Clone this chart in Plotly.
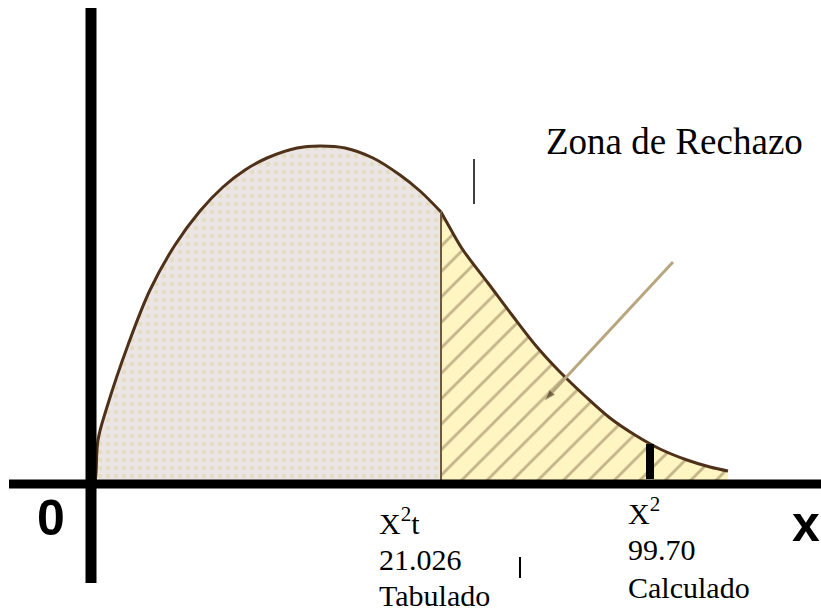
import plotly.graph_objects as go

# sketch of the chi-square density (origin = crossing of the axes)
curve_x = [4, 5, 7, 16, 37, 59, 84, 109, 132, 154, 176, 206, 229, 254, 282, 309, 329,
           350, 359, 372, 397, 421, 446, 469, 494, 519, 544, 569, 596, 619, 637]
curve_y = [2, 11, 44, 77, 139, 194, 239, 273, 297, 314, 326, 336, 338, 336, 326, 309, 293,
           272, 256, 234, 201, 169, 137, 112, 88, 66, 49, 35, 24, 17, 13]

x_tabulado = 350     # X²t = 21.026
x_calculado = 559    # X² = 99.70

tab_lines = ["X<sup>2</sup>t", "21.026", "Tabulado"]
calc_lines = ["X<sup>2</sup>", "99.70", "Calculado"]
zone_label = "Zona de Rechazo"

i = curve_x.index(x_tabulado)
left_x, left_y = curve_x[:i + 1], curve_y[:i + 1]
right_x, right_y = curve_x[i:], curve_y[i:]

outline = "#4E3118"
serif = "Liberation Serif, Times New Roman, serif"

fig = go.Figure()

# acceptance zone (dotted)
fig.add_trace(go.Scatter(
    x=left_x, y=left_y, mode="lines",
    line=dict(color=outline, width=3, shape="spline", smoothing=1),
    fill="tozeroy", fillcolor="#ECE5E5",
    fillpattern=dict(shape=".", bgcolor="#ECE5E5", fgcolor="#DCD5A8", size=8, solidity=0.3),
))
# rejection zone (hatched)
fig.add_trace(go.Scatter(
    x=right_x, y=right_y, mode="lines",
    line=dict(color=outline, width=3, shape="spline", smoothing=1),
    fill="tozeroy", fillcolor="#FFF5C2",
    fillpattern=dict(shape="/", bgcolor="#FFF5C2", fgcolor="#8A7352", size=18, solidity=0.16),
))
# border between zones
fig.add_trace(go.Scatter(
    x=[x_tabulado, x_tabulado], y=[0, curve_y[i]], mode="lines",
    line=dict(color="#6E5A3C", width=2),
))
# pointer to the rejection zone
fig.add_trace(go.Scatter(
    x=[582, 454], y=[222, 84], mode="lines+markers",
    line=dict(color="#B8A67E", width=3),
    marker=dict(size=[0, 11], symbol="arrow", angleref="previous", color="#3B2A12"),
))

# axes and ticks
fig.add_shape(type="line", x0=-82, x1=730, y0=0, y1=0, line=dict(color="black", width=9))
fig.add_shape(type="line", x0=0, x1=0, y0=-99, y1=476, line=dict(color="black", width=11))
fig.add_shape(type="line", x0=x_calculado, x1=x_calculado, y0=5, y1=40,
              line=dict(color="black", width=8))
fig.add_shape(type="line", x0=383, x1=383, y0=280, y1=325, line=dict(color="black", width=1.5))
fig.add_shape(type="line", x0=429, x1=429, y0=-73, y1=-94, line=dict(color="black", width=2))

big = dict(family="Liberation Sans, Arial, sans-serif", size=50, color="black")
fig.add_annotation(x=-40, y=-34, text="<b>0</b>", showarrow=False, font=big)
fig.add_annotation(x=715, y=-40, text="<b>x</b>", showarrow=False, font=big)

fig.add_annotation(x=453, y=343, text=zone_label, showarrow=False, xanchor="left",
                   font=dict(family=serif, size=37, color="black"))

for txt, yy in zip(tab_lines, [-37, -75, -111]):
    fig.add_annotation(x=286, y=yy, text=txt, showarrow=False, xanchor="left",
                       font=dict(family=serif, size=30, color="black"))
for txt, yy in zip(calc_lines, [-27, -65, -103]):
    fig.add_annotation(x=535, y=yy, text=txt, showarrow=False, xanchor="left",
                       font=dict(family=serif, size=30, color="black"))

fig.update_layout(
    width=821, height=611,
    margin=dict(l=0, r=0, t=0, b=0),
    paper_bgcolor="white", plot_bgcolor="white",
    showlegend=False,
    xaxis=dict(range=[-91, 730], visible=False),
    yaxis=dict(range=[-127, 484], visible=False),
)

fig.write_html("out.html", config={"displayModeBar": False},
               post_script="document.body.style.margin='0';")
